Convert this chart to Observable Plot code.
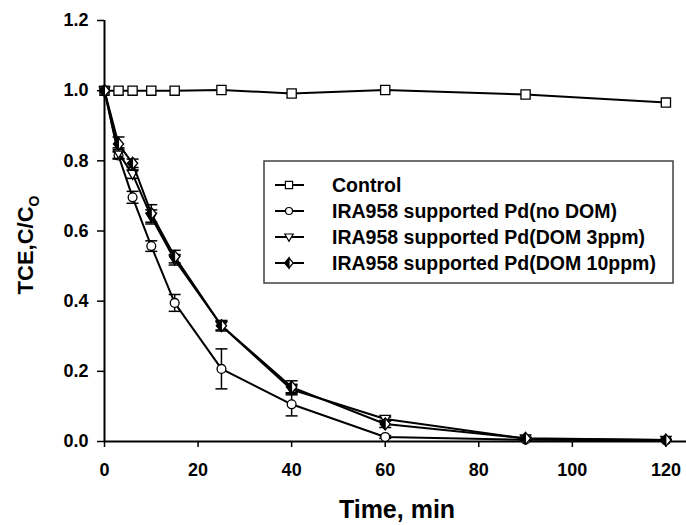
<!DOCTYPE html>
<html>
<head>
<meta charset="utf-8">
<script src="https://cdn.jsdelivr.net/npm/d3@7"></script>
<script src="https://cdn.jsdelivr.net/npm/@observablehq/plot@0.6"></script>
<style>
  html, body { margin: 0; padding: 0; background: #fff; }
  #chart { position: relative; width: 686px; height: 525px; }
</style>
</head>
<body>
<div id="chart"></div>
<script>
// ---- data ----
const times = [0, 3, 6, 10, 15, 25, 40, 60, 90, 120];
const control = [1.0, 1.0, 1.0, 1.0, 1.0, 1.002, 0.992, 1.002, 0.989, 0.966];
const noDOM = [1.0, 0.815, 0.696, 0.557, 0.395, 0.207, 0.106, 0.013, 0.005, 0.003];
const noDOMErr = [0, 0.01, 0.017, 0.015, 0.024, 0.057, 0.033, 0.004, 0.002, 0.002];
const dom3 = [1.0, 0.822, 0.762, 0.64, 0.518, 0.33, 0.148, 0.064, 0.008, 0.004];
const dom3Err = [0, 0.015, 0.012, 0.02, 0.015, 0.012, 0.015, 0.006, 0.003, 0.002];
const dom10 = [1.0, 0.848, 0.793, 0.65, 0.527, 0.33, 0.155, 0.05, 0.009, 0.004];
const dom10Err = [0, 0.02, 0.012, 0.025, 0.018, 0.015, 0.018, 0.01, 0.003, 0.002];
const seriesNames = [
  "Control",
  "IRA958 supported Pd(no DOM)",
  "IRA958 supported Pd(DOM 3ppm)",
  "IRA958 supported Pd(DOM 10ppm)"
];
const xTicks = [0, 20, 40, 60, 80, 100, 120];
const yTicks = [0, 0.2, 0.4, 0.6, 0.8, 1.0, 1.2];

// ---- custom symbols ----
const rad = (size) => Math.sqrt(size / Math.PI);
const square = { draw(c, s) { const r = rad(s); c.rect(-r, -r, 2 * r, 2 * r); } };
const triDown = { draw(c, s) { const r = rad(s); c.moveTo(-r, -0.72 * r); c.lineTo(r, -0.72 * r); c.lineTo(0, r); c.closePath(); } };
const diamond = { draw(c, s) { const r = rad(s); c.moveTo(0, -r); c.lineTo(0.85 * r, 0); c.lineTo(0, r); c.lineTo(-0.85 * r, 0); c.closePath(); } };
const halfDiamond = { draw(c, s) { const r = rad(s); c.moveTo(0, -r); c.lineTo(-0.85 * r, 0); c.lineTo(0, r); c.closePath(); } };
const cap = { draw(c, s) { const r = rad(s); c.moveTo(-r, 0); c.lineTo(r, 0); } };

const mk = (vals, errs) => times.map((t, i) => ({
  t, v: vals[i], lo: errs ? vals[i] - errs[i] : null, hi: errs ? vals[i] + errs[i] : null
}));
const dControl = mk(control, null);
const dNo = mk(noDOM, noDOMErr);
const d3p = mk(dom3, dom3Err);
const d10 = mk(dom10, dom10Err);

function errMarks(d) {
  const e = d.filter(p => p.t > 0);
  return [
    Plot.ruleX(e, { x: "t", y1: "lo", y2: "hi", stroke: "black", strokeWidth: 1.5 }),
    Plot.dot(e, { x: "t", y: "lo", symbol: cap, r: 6, stroke: "black", strokeWidth: 1.5, fill: "none" }),
    Plot.dot(e, { x: "t", y: "hi", symbol: cap, r: 6, stroke: "black", strokeWidth: 1.5, fill: "none" })
  ];
}

const lineOpts = { x: "t", y: "v", stroke: "black", strokeWidth: 2 };

const chart = Plot.plot({
  width: 686,
  height: 525,
  marginLeft: 104,
  marginRight: 0,
  marginTop: 20,
  marginBottom: 84,
  style: { fontFamily: "'Liberation Sans', Arial, sans-serif", fontSize: "18px", fontWeight: "bold", color: "black" },
  x: { domain: [0, 124.4] },
  y: { domain: [0, 1.2] },
  marks: [
    Plot.axisX({ ticks: xTicks, tickSize: 6, tickPadding: 16, fontSize: 18, strokeWidth: 1.5, label: null, fill: "black" }),
    Plot.axisY({ ticks: yTicks, tickFormat: d3.format(".1f"), tickSize: 7, tickPadding: 9, fontSize: 18, strokeWidth: 1.5, label: null, fill: "black" }),
    Plot.ruleY([0], { stroke: "black", strokeWidth: 2 }),
    Plot.ruleX([0], { stroke: "black", strokeWidth: 2 }),
    // Control
    Plot.line(dControl, lineOpts),
    Plot.dot(dControl, { x: "t", y: "v", symbol: square, r: 4.6, fill: "white", stroke: "black", strokeWidth: 1.3 }),
    // no DOM
    Plot.line(dNo, lineOpts),
    ...errMarks(dNo),
    Plot.dot(dNo, { x: "t", y: "v", symbol: "circle", r: 4.4, fill: "white", stroke: "black", strokeWidth: 1.3 }),
    // DOM 3ppm
    Plot.line(d3p, lineOpts),
    ...errMarks(d3p),
    Plot.dot(d3p, { x: "t", y: "v", symbol: triDown, r: 5.2, fill: "white", stroke: "black", strokeWidth: 1.3 }),
    // DOM 10ppm
    Plot.line(d10, lineOpts),
    ...errMarks(d10),
    Plot.dot(d10, { x: "t", y: "v", symbol: diamond, r: 6, fill: "white", stroke: "black", strokeWidth: 1.3 }),
    Plot.dot(d10, { x: "t", y: "v", symbol: halfDiamond, r: 6, fill: "black", stroke: "black", strokeWidth: 1 })
  ]
});

document.getElementById("chart").appendChild(chart);

const svg = d3.select(chart);

// axis titles
const yl = svg.append("text")
  .attr("transform", "translate(33,245) rotate(-90)")
  .attr("text-anchor", "middle")
  .style("font-size", "22px").style("font-weight", "bold").attr("fill", "black");
yl.append("tspan").text("TCE,C/C");
yl.append("tspan").style("font-size", "14px").attr("dy", 6).text("O");

svg.append("text")
  .attr("x", 397).attr("y", 518)
  .attr("text-anchor", "middle")
  .style("font-size", "25px").style("font-weight", "bold").attr("fill", "black")
  .text("Time, min");

// legend
const lg = svg.append("g");
lg.append("rect").attr("x", 264).attr("y", 161).attr("width", 409).attr("height", 122)
  .attr("fill", "white").attr("stroke", "#404040").attr("stroke-width", 1.5);
const legendSyms = [
  [{ sym: square, size: Math.PI * 3.6 * 3.6, fill: "white" }],
  [{ sym: d3.symbolCircle, size: Math.PI * 3.5 * 3.5, fill: "white" }],
  [{ sym: triDown, size: Math.PI * 4.2 * 4.2, fill: "white" }],
  [{ sym: diamond, size: Math.PI * 5 * 5, fill: "white" }, { sym: halfDiamond, size: Math.PI * 5 * 5, fill: "black" }]
];
const rowY = [185, 211, 237, 263];
seriesNames.forEach((name, i) => {
  const y = rowY[i];
  lg.append("line").attr("x1", 275).attr("x2", 304).attr("y1", y).attr("y2", y)
    .attr("stroke", "black").attr("stroke-width", 2);
  legendSyms[i].forEach(s => {
    lg.append("path").attr("d", d3.symbol(s.sym, s.size)())
      .attr("transform", `translate(289,${y})`)
      .attr("fill", s.fill).attr("stroke", "black").attr("stroke-width", 1.2);
  });
  lg.append("text").attr("x", 332).attr("y", y + 7)
    .attr("text-anchor", "start")
    .style("font-size", "19.5px").style("font-weight", "bold").attr("fill", "black")
    .text(name);
});
</script>
</body>
</html>
